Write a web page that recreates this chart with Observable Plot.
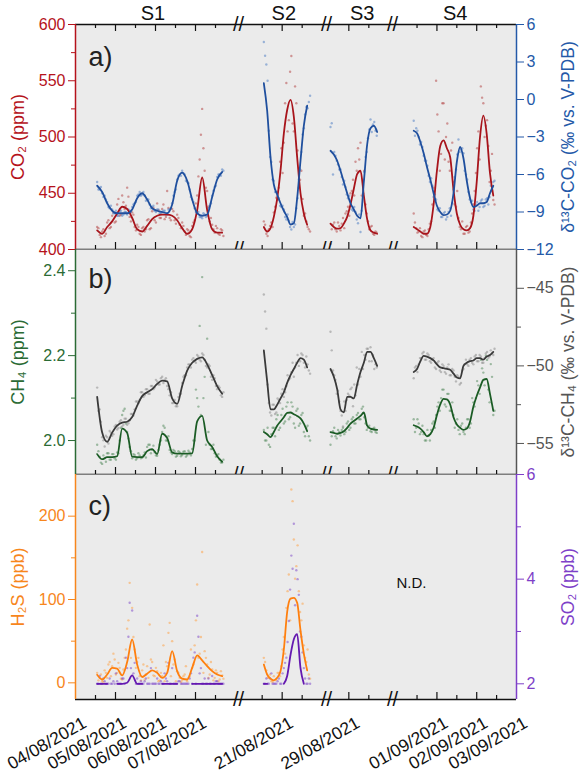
<!DOCTYPE html>
<html>
<head>
<meta charset="utf-8">
<script src="https://cdn.jsdelivr.net/npm/d3@7"></script>
<script src="https://cdn.jsdelivr.net/npm/@observablehq/plot@0.6"></script>
<style>
  html, body { margin: 0; padding: 0; background: #fff; }
  #fig { position: relative; width: 582px; height: 775px; }
  #fig svg { position: absolute; left: 0; top: 0; }
</style>
</head>
<body>
<div id="fig"></div>
<script>
// ---------------- time grid of each campaign ----------------
const segStart = {S1: "2021-08-04T13:00Z", S2: "2021-08-20T13:00Z", S3: "2021-08-28T13:00Z", S4: "2021-08-31T10:00Z"};
const lineStepH = {S1: 3, S2: 2, S3: 2, S4: 2};   // smoothed curves
const pointStepH = 1.5;                           // raw observations (two interleaved sets)

// broken time axis
const xBreakDomain = ["2021-08-04T00:00Z", "2021-08-08T01:48Z", "2021-08-19T21:48Z", "2021-08-22T02:36Z",
                      "2021-08-28T10:36Z", "2021-08-30T02:12Z", "2021-08-30T21:12Z", "2021-09-03T00:00Z"];
const xBreakRange = [75, 238, 238, 326, 326, 392, 392, 516];
const breakAt = ["2021-08-08T01:48Z", "2021-08-22T02:36Z", "2021-08-30T02:12Z"];
const majorTickLabels = ["04/08/2021", "05/08/2021", "06/08/2021", "07/08/2021", "21/08/2021",
                         "29/08/2021", "01/09/2021", "02/09/2021", "03/09/2021"];
const minorTicks = ["2021-08-04T12:00Z", "2021-08-05T12:00Z", "2021-08-06T12:00Z", "2021-08-07T12:00Z",
                    "2021-08-20T12:00Z", "2021-08-21T12:00Z", "2021-08-29T12:00Z", "2021-08-31T12:00Z",
                    "2021-09-01T12:00Z", "2021-09-02T12:00Z"];
const segLabels = [{label: "S1", t: "2021-08-05T22:30Z"}, {label: "S2", t: "2021-08-21T01:00Z"},
                   {label: "S3", t: "2021-08-29T08:00Z"}, {label: "S4", t: "2021-09-01T11:00Z"}];
const ndNote = [{label: "N.D.", t: "2021-08-31T08:40Z", v: 119}];

// ---------------- CO2 (ppm) ----------------
const co2_S1 = [417, 414, 420, 425, 432, 438, 436, 428, 418, 416, 421, 427, 430, 431, 431, 430, 426, 419, 414, 418, 435, 464, 435, 418, 415, 415];
const co2_S2 = [420, 416, 419, 429, 445, 470, 503, 524, 533, 518, 482, 450, 432, 422];
const co2_S3 = [423, 420, 418.5, 419, 423, 429, 440, 454, 467, 470, 448, 427, 417, 415, 414];
const co2_S4 = [420, 418, 416, 414, 414, 420, 440, 470, 492, 497, 490, 482, 453, 432, 422, 418, 417, 419, 430, 460, 500, 519, 503, 468, 448];
const co2_S1_obs = [420, 413, 416, 412, 424, 419, 430, 424, 440, 430, 448, 436, 455, 429, 433, 420, 422, 414, 419, 416, 426, 418, 434, 426, 441, 428, 436, 427, 452, 428, 436, 426, 431, 422, 424, 416, 418, 412, 421, 426, 448, 480, 525, 470, 452, 425, 422, 415, 419, 413, 417];
const co2_S2_obs = [425, 414, 418, 424, 433, 446, 455, 490, 495, 548, 515, 572, 505, 530, 455, 470, 430, 425, 418];
const co2_S3_obs = [405, 422, 418, 424, 417, 428, 432, 438, 450, 462, 478, 490, 495, 462, 440, 425, 420, 414, 416];
const co2_S4_obs = [432, 419, 416, 412, 416, 413, 418, 425, 455, 550, 505, 485, 530, 500, 478, 488, 460, 438, 428, 418, 414, 420, 415, 424, 440, 468, 505, 545, 530, 510, 492, 470, 444];
const co2_S1_obs2 = [419, 411, 418, 414, 426, 420, 433, 425, 445, 431, 442, 439, 447, 425, 431, 417, 420, 413, 420, 418, 427, 419, 437, 424, 435, 428, 440, 429, 437, 426, 434, 423, 428, 419, 421, 413, 417, 411, 424, 441, 465, 502, 490, 455, 438, 428, 418, 421, 414, 418, 412];
const co2_S2_obs2 = [422, 412, 421, 420, 438, 444, 478, 468, 530, 505, 558, 512, 545, 488, 462, 445, 432, 420, 416];
const co2_S3_obs2 = [418, 424, 416, 421, 423, 419, 434, 430, 452, 448, 470, 480, 448, 470, 432, 418, 421, 413, 415];
const co2_S4_obs2 = [424, 415, 419, 411, 417, 412, 423, 440, 445, 520, 470, 530, 480, 512, 470, 495, 440, 452, 420, 425, 414, 421, 416, 432, 452, 490, 480, 535, 500, 515, 460, 485, 440];

// ---------------- d13C-CO2 (permil) ----------------
const dco2_S1 = [-6.9, -7.4, -8.3, -8.9, -9.1, -9.1, -9.1, -8.8, -7.9, -7.5, -8.0, -8.7, -8.9, -9.0, -9.1, -8.4, -6.5, -5.85, -6.5, -8.0, -9.1, -9.3, -9.2, -7.8, -6.4, -5.8];
const dco2_S2 = [1.3, -0.9, -4.6, -6.8, -7.6, -8.3, -8.9, -9.4, -10.0, -9.9, -7.9, -4.9, -2.1, -0.5];
const dco2_S3 = [-4.1, -4.4, -4.9, -5.7, -6.6, -7.5, -8.3, -8.8, -9.3, -9.5, -6.6, -3.6, -2.3, -2.1, -2.6];
const dco2_S4 = [-2.5, -2.7, -3.4, -4.3, -5.4, -6.4, -7.5, -8.5, -9.0, -9.25, -9.2, -8.9, -7.5, -5.0, -3.8, -4.7, -6.5, -7.9, -8.6, -8.5, -8.3, -8.3, -8.2, -7.5, -6.9];
const dco2_S1_obs = [-6.6, -7.2, -7.5, -7.7, -8.2, -8.7, -8.8, -9.1, -9.3, -8.9, -9.3, -9.0, -9.2, -8.9, -8.6, -8.3, -7.7, -7.4, -7.6, -7.7, -8.0, -8.4, -8.6, -8.9, -8.8, -9.1, -9.0, -8.9, -9.2, -8.8, -8.3, -7.4, -6.4, -6.0, -5.7, -6.0, -6.6, -7.2, -8.0, -8.7, -9.0, -9.4, -9.5, -9.2, -9.3, -8.5, -7.7, -7.0, -6.2, -6.0, -5.6];
const dco2_S2_obs = [4.6, 2.8, -2.5, -5.0, -6.5, -7.4, -7.9, -8.6, -8.8, -9.6, -9.7, -10.4, -10.2, -8.7, -6.4, -4.2, -2.3, -0.6, -0.2];
const dco2_S3_obs = [-2.2, -6.0, -4.5, -5.2, -5.6, -6.8, -7.0, -7.9, -8.1, -8.9, -9.0, -9.9, -10.6, -7.5, -4.6, -3.1, -1.6, -2.0, -2.5];
const dco2_S4_obs = [-1.7, -2.3, -3.0, -3.4, -4.5, -4.9, -6.1, -6.3, -7.8, -8.0, -8.9, -9.4, -9.1, -9.6, -9.0, -9.3, -7.2, -5.6, -3.2, -4.0, -4.3, -6.0, -7.4, -8.2, -8.8, -8.4, -8.9, -8.1, -8.6, -8.0, -8.4, -6.9, -6.6];
const dco2_S1_obs2 = [-7.2, -7.0, -7.8, -8.0, -8.6, -8.5, -9.1, -8.9, -9.3, -8.9, -9.2, -9.0, -8.8, -9.0, -8.4, -8.2, -7.6, -7.7, -7.4, -8.1, -8.0, -8.7, -8.5, -9.0, -8.8, -9.1, -8.9, -9.2, -8.8, -8.7, -7.7, -7.2, -6.1, -6.1, -5.9, -6.5, -6.7, -7.8, -8.2, -9.0, -9.0, -9.4, -9.1, -9.4, -8.7, -8.3, -7.3, -6.9, -6.0, -6.1, -5.7];
const dco2_S2_obs2 = [3.5, 1.5, -4.6, -6.4, -7.4, -7.4, -8.5, -8.5, -9.4, -9.2, -10.2, -9.8, -10.0, -7.9, -5.6, -2.8, -1.2, -0.7, 0.3];
const dco2_S3_obs2 = [-1.9, -4.2, -4.9, -5.6, -6.2, -6.5, -7.6, -7.7, -8.8, -8.6, -9.6, -9.2, -8.9, -5.8, -4.2, -2.4, -2.6, -1.8, -2.9];
const dco2_S4_obs2 = [-2.9, -2.5, -3.6, -3.8, -4.9, -5.3, -6.6, -6.9, -7.6, -8.8, -8.7, -9.4, -9.0, -9.4, -8.7, -8.3, -6.2, -4.4, -4.2, -3.9, -5.7, -6.4, -8.0, -8.1, -8.9, -8.2, -8.6, -8.0, -8.5, -7.9, -7.8, -7.3, -6.5];

// ---------------- CH4 (ppm) ----------------
const ch4_S1 = [1.968, 1.956, 1.961, 1.961, 1.963, 2.028, 2.018, 1.962, 1.961, 1.961, 1.975, 1.98, 1.968, 2.016, 2.006, 1.972, 1.969, 1.969, 1.969, 1.97, 2.045, 2.058, 2.0, 1.985, 1.963, 1.95];
const ch4_S2 = [2.02, 2.015, 2.008, 2.02, 2.035, 2.045, 2.055, 2.065, 2.066, 2.062, 2.058, 2.052, 2.04, 2.022];
const ch4_S3 = [2.02, 2.018, 2.016, 2.018, 2.022, 2.03, 2.04, 2.046, 2.052, 2.058, 2.066, 2.035, 2.028, 2.026, 2.025];
const ch4_S4 = [2.036, 2.033, 2.028, 2.02, 2.01, 2.015, 2.03, 2.06, 2.085, 2.098, 2.097, 2.085, 2.055, 2.038, 2.03, 2.025, 2.028, 2.045, 2.08, 2.105, 2.125, 2.143, 2.145, 2.11, 2.07];
const ch4_S1_obs = [1.99, 1.962, 1.945, 1.958, 1.97, 1.955, 1.968, 1.958, 1.972, 2.0, 2.06, 2.075, 2.02, 1.985, 1.958, 1.966, 1.958, 1.965, 1.96, 1.972, 1.985, 1.99, 1.978, 1.972, 1.964, 1.99, 2.02, 2.03, 2.0, 1.978, 1.968, 1.975, 1.964, 1.972, 1.966, 1.975, 1.965, 1.972, 1.98, 2.0, 2.1, 2.27, 2.385, 2.15, 2.24, 1.99, 1.98, 1.97, 1.965, 1.955, 1.948];
const ch4_S2_obs = [2.025, 2.0, 1.99, 2.015, 2.03, 2.05, 2.025, 2.06, 2.04, 2.08, 2.05, 2.09, 2.04, 2.07, 2.035, 2.06, 2.02, 2.03, 2.01];
const ch4_S3_obs = [1.99, 2.022, 2.01, 2.025, 2.012, 2.03, 2.02, 2.045, 2.03, 2.055, 2.04, 2.065, 2.05, 2.08, 2.04, 2.03, 2.022, 2.028, 2.02];
const ch4_S4_obs = [2.05, 2.03, 2.04, 2.02, 2.015, 2.0, 2.012, 2.025, 2.045, 2.06, 2.09, 2.1, 2.12, 2.08, 2.11, 2.07, 2.06, 2.04, 2.025, 2.035, 2.02, 2.03, 2.05, 2.04, 2.09, 2.1, 2.13, 2.19, 2.16, 2.2, 2.12, 2.18, 2.06];
const ch4_S1_obs2 = [1.975, 1.948, 1.965, 1.95, 1.97, 1.955, 1.968, 1.955, 1.97, 2.03, 2.07, 2.04, 2.005, 1.975, 1.968, 1.955, 1.97, 1.958, 1.965, 1.96, 1.99, 1.97, 1.988, 1.965, 1.978, 2.0, 2.035, 2.0, 2.01, 1.972, 1.978, 1.962, 1.975, 1.963, 1.974, 1.962, 1.976, 1.965, 2.0, 2.12, 2.08, 2.06, 2.1, 1.99, 2.02, 1.98, 1.99, 1.962, 1.968, 1.948, 1.955];
const ch4_S2_obs2 = [2.0, 2.03, 1.985, 2.03, 2.01, 2.06, 2.03, 2.075, 2.045, 2.09, 2.055, 2.08, 2.03, 2.075, 2.04, 2.065, 2.01, 2.035, 2.0];
const ch4_S3_obs2 = [2.01, 2.03, 2.005, 2.02, 2.025, 2.015, 2.04, 2.025, 2.05, 2.04, 2.06, 2.05, 2.075, 2.055, 2.025, 2.035, 2.02, 2.03, 2.018];
const ch4_S4_obs2 = [2.02, 2.05, 2.015, 2.035, 2.0, 2.025, 2.0, 2.04, 2.03, 2.08, 2.07, 2.12, 2.085, 2.11, 2.07, 2.09, 2.03, 2.05, 2.015, 2.04, 2.015, 2.05, 2.03, 2.1, 2.08, 2.14, 2.11, 2.17, 2.13, 2.19, 2.09, 2.15, 2.07];

// ---------------- d13C-CH4 (permil) ----------------
const dch4_S1 = [-52.0, -54.3, -54.9, -54.3, -53.85, -53.65, -53.6, -53.3, -52.56, -51.95, -51.7, -51.5, -51.16, -50.95, -51.0, -52.1, -52.45, -51.3, -50.3, -49.8, -49.55, -49.45, -49.9, -50.6, -51.3, -51.8];
const dch4_S2 = [-49.0, -51.0, -52.8, -52.8, -52.5, -52.1, -51.7, -51.1, -50.6, -50.2, -49.8, -49.5, -49.6, -50.1];
const dch4_S3 = [-50.2, -50.7, -51.5, -52.8, -53.0, -52.0, -52.0, -52.1, -51.2, -50.4, -49.8, -49.1, -49.1, -49.5, -50.0];
const dch4_S4 = [-50.4, -50.2, -49.7, -49.35, -49.4, -49.5, -49.65, -49.9, -50.1, -50.15, -50.2, -50.25, -50.5, -50.75, -50.8, -50.0, -49.8, -49.7, -49.65, -49.5, -49.5, -49.6, -49.4, -49.3, -49.1];
const dch4_S1_obs = [-51.4, -52.8, -54.6, -55.2, -54.6, -54.2, -54.5, -53.9, -54.1, -53.6, -53.9, -53.4, -53.8, -53.5, -53.1, -52.8, -52.3, -52.2, -51.7, -51.9, -51.5, -51.8, -51.3, -51.4, -51.0, -51.2, -50.7, -50.9, -51.3, -51.9, -52.4, -52.2, -52.6, -51.8, -51.1, -50.6, -50.1, -49.9, -49.6, -49.7, -49.3, -49.6, -49.2, -49.6, -50.1, -50.0, -50.9, -50.8, -51.5, -51.4, -52.0];
const dch4_S2_obs = [-45.4, -47.6, -52.4, -53.2, -52.5, -53.0, -52.2, -51.8, -52.0, -51.3, -50.9, -50.4, -50.7, -49.8, -50.0, -49.2, -49.8, -49.4, -50.3];
const dch4_S3_obs = [-47.8, -50.3, -50.9, -51.6, -52.9, -53.9, -52.9, -51.8, -51.5, -52.6, -51.9, -51.2, -50.7, -50.2, -49.6, -48.9, -48.8, -49.3, -49.9];
const dch4_S4_obs = [-50.8, -50.0, -49.9, -49.5, -49.1, -49.6, -49.3, -49.8, -49.5, -50.2, -49.7, -50.4, -50.0, -50.5, -49.9, -50.6, -50.3, -51.0, -50.7, -51.1, -50.2, -49.6, -50.0, -49.5, -49.9, -49.3, -49.7, -49.4, -49.8, -49.2, -49.5, -49.0, -49.3];
const dch4_S1_obs2 = [-52.9, -53.6, -54.8, -54.5, -55.0, -54.3, -54.4, -53.8, -54.0, -53.5, -53.8, -53.4, -53.7, -53.1, -53.2, -52.3, -52.4, -51.7, -52.0, -51.5, -51.8, -51.3, -51.5, -50.9, -51.2, -50.8, -51.1, -50.8, -51.5, -51.7, -52.4, -52.6, -52.0, -51.8, -50.7, -50.6, -49.9, -50.1, -49.5, -49.8, -49.4, -49.7, -49.3, -50.0, -49.9, -50.7, -50.6, -51.3, -51.3, -51.9, -51.7];
const dch4_S2_obs2 = [-46.5, -51.2, -53.0, -52.5, -53.1, -52.1, -52.4, -51.5, -51.7, -50.6, -50.8, -49.8, -50.1, -49.3, -49.7, -49.3, -50.1, -49.9, -50.5];
const dch4_S3_obs2 = [-49.0, -50.6, -51.8, -52.3, -53.2, -52.3, -52.2, -51.9, -51.4, -51.2, -50.1, -50.2, -49.1, -49.3, -48.9, -49.7, -49.7, -50.2, -50.1];
const dch4_S4_obs2 = [-50.1, -50.4, -49.5, -49.2, -49.6, -49.2, -49.7, -49.6, -50.1, -49.8, -50.3, -49.9, -50.4, -50.1, -50.6, -50.2, -50.7, -50.6, -51.2, -50.3, -49.9, -49.9, -49.6, -49.8, -49.4, -49.7, -49.3, -49.8, -49.5, -49.1, -49.4, -49.2, -48.9];

// ---------------- H2S (ppb) ----------------
const h2s_S1 = [9.6, 4, 10, 18, 17, 9, 25, 52, 22, 7, 11, 15, 12, 6, 12, 38, 14, 5, 4, 18, 33, 27, 20, 14, 10, 8];
const h2s_S2 = [22, 10, 5, 3, 6, 14, 40, 85, 101, 102, 96, 63, 35, 15];
const h2s_S1_obs = [12, 6, 2, 15, 6, 25, 20, 28, 12, 18, 4, 30, 65, 120, 90, 40, 25, 8, 15, 4, 20, 70, 25, 8, 14, 3, 8, 2, 20, 72, 50, 28, 14, 6, 3, 10, 2, 8, 18, 45, 118, 35, 157, 38, 22, 10, 16, 6, 12, 4, 9];
const h2s_S2_obs = [30, 15, 6, 2, 8, 4, 12, 20, 55, 90, 130, 232, 172, 140, 110, 75, 45, 25, 10];
const h2s_S1_obs2 = [3, 10, 1, 12, 22, 8, 35, 10, 24, 5, 16, 40, 75, 30, 55, 18, 30, 3, 22, 10, 6, 28, 9, 18, 2, 12, 45, 25, 60, 8, 22, 2, 12, 1, 8, 20, 6, 40, 22, 75, 30, 55, 12, 30, 6, 25, 3, 15, 2, 14, 5];
const h2s_S2_obs2 = [25, 6, 10, 1, 3, 12, 8, 40, 35, 110, 75, 218, 125, 165, 85, 95, 30, 40, 5];

// ---------------- SO2 (ppb) ----------------
const so2_S1 = [2, 2, 2, null, 2, 2, 2.02, 2.16, 2.0, 2.0, null, null, null, 2, 2, 2, 2, null, null, 2, 2, 2, 2, 2, 2, 2];
const so2_S2 = [2, 2, null, null, null, null, 2, 2.15, 2.55, 2.85, 2.95, 2.3, 2, null];
const so2_S1_obs = [2.0, 2.15, 2.0, 2.05, 2.0, 2.1, 2.0, 2.0, 2.05, 2.0, 2.1, 2.0, 2.3, 3.55, 3.4, 2.4, 2.1, 2.0, 2.0, 2.05, 2.0, 2.0, 2.0, 2.0, 2.1, 2.0, 2.0, 2.2, 2.05, 2.0, 2.3, 2.0, 2.0, 2.05, 2.0, 2.0, 2.0, 2.1, 2.0, 2.6, 3.3, 2.2, 2.0, 2.1, 2.0, 2.0, 2.15, 2.0, 2.05, 2.0, 2.0];
const so2_S2_obs = [2.0, 2.1, 2.0, 2.2, 2.0, 2.0, 2.1, 2.0, 2.3, 2.5, 3.2, 4.45, 5.06, 4.17, 3.7, 2.9, 2.3, 2.0, 2.1];
const so2_S1_obs2 = [2.0, 2.0, 2.1, 2.0, 2.0, 2.0, 2.05, 2.2, 2.0, 2.0, 2.1, 2.5, 2.9, 2.3, 2.2, 2.0, 2.0, 2.05, 2.0, 2.1, 2.0, 2.3, 2.0, 2.0, 2.0, 2.05, 2.0, 2.1, 2.4, 2.0, 2.0, 2.0, 2.05, 2.0, 2.0, 2.0, 2.0, 2.2, 2.5, 2.0, 2.9, 2.3, 2.0, 2.0, 2.1, 2.0, 2.0, 2.05, 2.0, 2.0, 2.0];
const so2_S2_obs2 = [2.0, 2.0, 2.1, 2.0, 2.0, 2.05, 2.0, 2.2, 2.4, 2.8, 3.8, 4.2, 3.5, 4.0, 3.0, 2.6, 2.1, 2.0, 2.0];

// ---------------- build tables ----------------
function seriesOf(values, seg, step, offsetH) {
  const t0 = Date.parse(segStart[seg]) + offsetH * 36e5;
  return values.map((v, i) => ({t: new Date(t0 + i * step * 36e5), v, seg}));
}
const lineData = (o) => Object.keys(o).flatMap((s) => seriesOf(o[s], s, lineStepH[s], 0));
const obsData = (o, off) => Object.keys(o).flatMap((s) => seriesOf(o[s], s, pointStepH, off));
const both = (a, b) => [...obsData(a, 0), ...obsData(b, 0.75)];

const D = {
  co2: {line: lineData({S1: co2_S1, S2: co2_S2, S3: co2_S3, S4: co2_S4}),
        obs: both({S1: co2_S1_obs, S2: co2_S2_obs, S3: co2_S3_obs, S4: co2_S4_obs}, {S1: co2_S1_obs2, S2: co2_S2_obs2, S3: co2_S3_obs2, S4: co2_S4_obs2})},
  dco2: {line: lineData({S1: dco2_S1, S2: dco2_S2, S3: dco2_S3, S4: dco2_S4}),
        obs: both({S1: dco2_S1_obs, S2: dco2_S2_obs, S3: dco2_S3_obs, S4: dco2_S4_obs}, {S1: dco2_S1_obs2, S2: dco2_S2_obs2, S3: dco2_S3_obs2, S4: dco2_S4_obs2})},
  ch4: {line: lineData({S1: ch4_S1, S2: ch4_S2, S3: ch4_S3, S4: ch4_S4}),
        obs: both({S1: ch4_S1_obs, S2: ch4_S2_obs, S3: ch4_S3_obs, S4: ch4_S4_obs}, {S1: ch4_S1_obs2, S2: ch4_S2_obs2, S3: ch4_S3_obs2, S4: ch4_S4_obs2})},
  dch4: {line: lineData({S1: dch4_S1, S2: dch4_S2, S3: dch4_S3, S4: dch4_S4}),
        obs: both({S1: dch4_S1_obs, S2: dch4_S2_obs, S3: dch4_S3_obs, S4: dch4_S4_obs}, {S1: dch4_S1_obs2, S2: dch4_S2_obs2, S3: dch4_S3_obs2, S4: dch4_S4_obs2})},
  h2s: {line: lineData({S1: h2s_S1, S2: h2s_S2}), obs: both({S1: h2s_S1_obs, S2: h2s_S2_obs}, {S1: h2s_S1_obs2, S2: h2s_S2_obs2})},
  so2: {line: lineData({S1: so2_S1, S2: so2_S2}), obs: both({S1: so2_S1_obs, S2: so2_S2_obs}, {S1: so2_S1_obs2, S2: so2_S2_obs2})}
};

// ---------------- styling ----------------
const FONT = "'Liberation Sans', Arial, Helvetica, sans-serif";
const BG = "#ebebeb";
const COL = {
  co2:  {line: "#a8141b", pt: "#b23c3c", axis: "#b5121b"},
  dco2: {line: "#1f4f9e", pt: "#4677c2", axis: "#2459a8"},
  ch4:  {line: "#1b5c25", pt: "#4c8656", axis: "#2b6b35"},
  dch4: {line: "#3a3a3a", pt: "#858585", axis: "#555555"},
  h2s:  {line: "#ff7f0e", pt: "#ff9d3c", axis: "#f7861c"},
  so2:  {line: "#6418b0", pt: "#7a42c8", axis: "#7e3fc8"}
};
const W = 582, H = 775, FH = 225;
const xDom = xBreakDomain.map((d) => new Date(d));
const parseDMY = d3.utcParse("%d/%m/%Y");
const fmtDMY = d3.utcFormat("%d/%m/%Y");
const majorDates = majorTickLabels.map(parseDMY);
const innerMajors = majorDates.slice(1, -1);
const minorDates = minorTicks.map((d) => new Date(d));
const breakDates = breakAt.map((d) => new Date(d));

const fig = document.getElementById("fig");
function layer(frame, yDomain, marks) {
  const svg = Plot.plot({
    width: W, height: H,
    marginLeft: 75, marginRight: 66, marginTop: frame[0], marginBottom: H - frame[1],
    x: {type: "utc", domain: xDom, range: xBreakRange, axis: null},
    y: {type: "linear", domain: yDomain, axis: null},
    style: {background: "transparent", fontFamily: FONT, fontSize: "16px", color: "#111"},
    marks
  });
  fig.appendChild(svg);
}
const dots = (d, c) => Plot.dot(d.obs, {x: "t", y: "v", r: 1.2, fill: c.pt, fillOpacity: 0.5});
const curve = (d, c) => Plot.line(d.line, {x: "t", y: "v", z: "seg", stroke: c.line, strokeWidth: 1.8, curve: "monotone-x"});
function xFrameMarks(yDomain, withTop) {
  const m = [
    Plot.ruleY([yDomain[0]], {stroke: "#111", strokeWidth: 1.4}),
    Plot.ruleX(innerMajors, {insetTop: FH - 7, stroke: "#111", strokeWidth: 1.2}),
    Plot.ruleX(minorDates, {insetTop: FH - 4, stroke: "#111", strokeWidth: 1.2}),
    Plot.text(breakDates, {x: (d) => d, text: () => "//", frameAnchor: "bottom", lineAnchor: "middle", fontSize: 20, fill: "#111"})
  ];
  if (withTop) m.push(
    Plot.ruleY([yDomain[1]], {stroke: "#111", strokeWidth: 1.4}),
    Plot.ruleX(innerMajors, {insetBottom: FH - 7, stroke: "#111", strokeWidth: 1.2}),
    Plot.ruleX(minorDates, {insetBottom: FH - 4, stroke: "#111", strokeWidth: 1.2}),
    Plot.text(breakDates, {x: (d) => d, text: () => "//", frameAnchor: "top", lineAnchor: "middle", fontSize: 20, fill: "#111"})
  );
  return m;
}
function leftAxis(c, majors, minors, fmt, title) {
  return [
    Plot.ruleX([xDom[0]], {stroke: c.axis, strokeWidth: 1.5}),
    Plot.axisY({anchor: "left", ticks: majors, tickSize: 7, tickPadding: 3, tickFormat: fmt, color: c.axis, fontSize: 16, label: null}),
    Plot.axisY({anchor: "left", ticks: minors, tickSize: 4, tickFormat: () => "", color: c.axis, label: null}),
    Plot.text([title], {frameAnchor: "left", dx: -57, rotate: -90, textAnchor: "middle", fontSize: 18, fill: c.axis})
  ];
}
function rightAxis(c, majors, minors, fmt, title) {
  return [
    Plot.ruleX([xDom[xDom.length - 1]], {stroke: c.axis, strokeWidth: 1.5}),
    Plot.axisY({anchor: "right", ticks: majors, tickSize: 7, tickPadding: 3, tickFormat: fmt, color: c.axis, fontSize: 16, label: null}),
    Plot.axisY({anchor: "right", ticks: minors, tickSize: 4, tickFormat: () => "", color: c.axis, label: null}),
    Plot.text([title], {frameAnchor: "right", dx: 52, rotate: -90, textAnchor: "middle", fontSize: 17.5, fill: c.axis})
  ];
}
const letter = (s, dy) => Plot.text([s], {frameAnchor: "top-left", dx: 13, dy, fontSize: 27, fill: "#222"});
const fInt = d3.format("d"), f1 = d3.format(".1f");

// ---------------- panel a ----------------
const A = [24, 249], yCO2 = [400, 600], yDCO2 = [-12, 6];
layer(A, yCO2, [Plot.frame({fill: BG}), dots(D.co2, COL.co2)]);
layer(A, yDCO2, [dots(D.dco2, COL.dco2)]);
layer(A, yCO2, [
  curve(D.co2, COL.co2),
  ...xFrameMarks(yCO2, true),
  ...leftAxis(COL.co2, [400, 450, 500, 550, 600], [425, 475, 525, 575], fInt, "CO₂ (ppm)"),
  Plot.text(segLabels, {x: (d) => new Date(d.t), text: "label", frameAnchor: "top", lineAnchor: "bottom", dy: -5, fontSize: 20, fill: "#111"}),
  letter("a)", 22)
]);
layer(A, yDCO2, [
  curve(D.dco2, COL.dco2),
  ...rightAxis(COL.dco2, [-12, -9, -6, -3, 0, 3, 6], [], fInt, "δ¹³C-CO₂ (‰ vs. V-PDB)")
]);

// ---------------- panel b ----------------
const B = [249, 474], yCH4 = [1.92, 2.45], yDCH4 = [-57, -42.5];
layer(B, yCH4, [Plot.frame({fill: BG}), dots(D.ch4, COL.ch4)]);
layer(B, yDCH4, [dots(D.dch4, COL.dch4)]);
layer(B, yCH4, [
  curve(D.ch4, COL.ch4),
  ...xFrameMarks(yCH4, false),
  ...leftAxis(COL.ch4, [2.0, 2.2, 2.4], [2.1, 2.3], f1, "CH₄ (ppm)"),
  letter("b)", 19)
]);
layer(B, yDCH4, [
  curve(D.dch4, COL.dch4),
  ...rightAxis(COL.dch4, [-55, -50, -45], [-52.5, -47.5], fInt, "δ¹³C-CH₄ (‰ vs. V-PDB)")
]);

// ---------------- panel c ----------------
const Cf = [474, 699], yH2S = [-20, 250], ySO2 = [1.7, 6];
layer(Cf, yH2S, [Plot.frame({fill: BG}), dots(D.h2s, COL.h2s)]);
layer(Cf, ySO2, [dots(D.so2, COL.so2)]);
layer(Cf, yH2S, [
  curve(D.h2s, COL.h2s),
  ...xFrameMarks(yH2S, false),
  ...leftAxis(COL.h2s, [0, 100, 200], [50, 150], fInt, "H₂S (ppb)"),
  letter("c)", 21),
  Plot.text(ndNote, {x: (d) => new Date(d.t), y: "v", text: "label", fontSize: 15, fill: "#111"}),
  Plot.text(majorDates, {x: (d) => d, text: (d) => fmtDMY(d), frameAnchor: "bottom", textAnchor: "end", lineAnchor: "top",
                         rotate: -30, dx: 6, dy: 16, fontSize: 17.5, fill: "#111"})
]);
layer(Cf, ySO2, [
  curve(D.so2, COL.so2),
  ...rightAxis(COL.so2, [2, 4, 6], [3, 5], fInt, "SO₂ (ppb)")
]);
</script>
</body>
</html>
